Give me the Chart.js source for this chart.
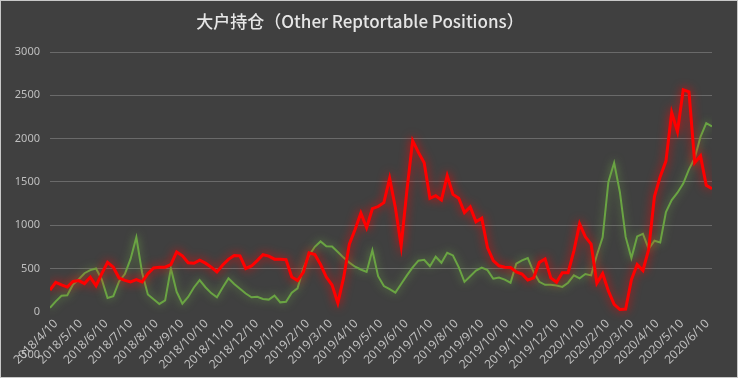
<!DOCTYPE html>
<html>
<head>
<meta charset="utf-8">
<script src="https://cdn.jsdelivr.net/npm/chart.js@4.4.1/dist/chart.umd.min.js"></script>
<style>
html,body{margin:0;padding:0;background:#404040;}
#wrap{width:738px;height:378px;position:relative;}
</style>
</head>
<body>
<div id="wrap"><canvas id="c"></canvas></div>
<script>
// ---- data ----
const titleText = '大户持仓（Other Reptortable Positions）';
const startDate = '2018/4/10';   // first weekly observation
const weekCount = 116;           // weekly observations
const tickLabels = ['2018/4/10','2018/5/10','2018/6/10','2018/7/10','2018/8/10','2018/9/10','2018/10/10','2018/11/10','2018/12/10','2019/1/10','2019/2/10','2019/3/10','2019/4/10','2019/5/10','2019/6/10','2019/7/10','2019/8/10','2019/9/10','2019/10/10','2019/11/10','2019/12/10','2020/1/10','2020/2/10','2020/3/10','2020/4/10','2020/5/10','2020/6/10'];
const yMin = -500, yMax = 3000, yStep = 500;

const redName = '多头';
const redSeries = [250,338,310,285,350,360,325,400,300,440,570,514,390,362,345,370,345,440,505,514,514,545,690,645,565,560,595,561,515,460,540,605,650,645,500,528,590,658,642,607,606,600,400,360,455,680,660,545,400,308,100,390,780,950,1140,970,1190,1215,1260,1540,1200,760,1400,1976,1840,1720,1310,1340,1290,1570,1355,1310,1145,1210,1040,1080,740,590,530,514,510,460,435,365,390,570,610,390,340,450,450,700,1015,865,780,330,440,240,85,25,30,370,545,476,720,1330,1560,1740,2300,2080,2564,2540,1720,1800,1460,1420];
const greenName = '空头';
const greenSeries = [45,120,185,190,315,375,445,480,500,370,159,180,350,435,610,860,450,200,143,90,130,500,230,93,170,280,365,283,215,167,280,385,320,264,210,167,172,148,140,185,108,115,220,270,500,650,750,812,755,754,690,625,567,520,488,460,710,410,297,260,220,320,420,512,590,600,525,635,565,680,650,515,345,410,475,510,480,381,395,370,335,555,593,620,460,345,311,312,303,287,335,420,385,435,420,655,860,1500,1720,1380,864,620,870,900,725,820,800,1150,1290,1375,1480,1645,1775,2020,2178,2140];

// ---- helpers (dates -> day offsets) ----
function dayNum(s){ const p = s.split('/').map(Number); return Date.UTC(p[0], p[1]-1, p[2]) / 86400000; }
const day0 = dayNum(startDate);
const tickOffsets = tickLabels.map(l => dayNum(l) - day0);
const labelByOffset = {};
tickLabels.forEach((l,i) => { labelByOffset[tickOffsets[i]] = l; });
const toPoints = arr => arr.map((v,i) => ({x: i*7, y: v}));

const glowPlugin = {
  id: 'glow',
  beforeDatasetDraw(chart, args){
    const ds = chart.data.datasets[args.index];
    chart.ctx.save();
    chart.ctx.shadowColor = ds.glowColor;
    chart.ctx.shadowBlur = ds.glowBlur;
  },
  afterDatasetDraw(chart){ chart.ctx.restore(); }
};
const bgPlugin = {
  id: 'bg',
  beforeDraw(chart){
    const c = chart.ctx; c.save(); c.fillStyle = '#404040'; c.fillRect(0,0,chart.width,chart.height); c.restore();
  },
  afterDraw(chart){
    const c = chart.ctx; c.save(); c.strokeStyle = '#c8c8c8'; c.lineWidth = 1;
    c.strokeRect(0.5,0.5,chart.width-1,chart.height-1); c.restore();
  }
};

new Chart(document.getElementById('c'), {
  type: 'line',
  data: {
    datasets: [
      { label: redName, data: toPoints(redSeries), borderColor: '#ff0000', borderWidth: 3, pointRadius: 0, tension: 0, glowColor: 'rgba(255,0,0,0.85)', glowBlur: 10 },
      { label: greenName, data: toPoints(greenSeries), borderColor: '#6aa443', borderWidth: 2, pointRadius: 0, tension: 0, glowColor: 'rgba(112,173,71,0.8)', glowBlur: 8 }
    ]
  },
  options: {
    responsive: true, maintainAspectRatio: false, animation: false, devicePixelRatio: 1,
    layout: { padding: { left: 8, right: 26, top: 0, bottom: 23 } },
    plugins: {
      legend: { display: false },
      tooltip: { enabled: false },
      title: { display: true, text: titleText, color: '#e6e6e6',
        font: { family: '"Noto Sans CJK SC", "Noto Sans", sans-serif', size: 17, weight: '500' },
        padding: { top: 11, bottom: 20.6 } }
    },
    scales: {
      x: {
        type: 'linear', position: { y: 0 }, min: 0, max: (weekCount-1)*7,
        grid: { display: false, drawTicks: false }, border: { display: false },
        afterBuildTicks: s => { s.ticks = tickOffsets.map(v => ({ value: v })); },
        afterFit: s => { s.height = 0; },
        ticks: { autoSkip: false, minRotation: 45, maxRotation: 45, padding: 5, labelOffset: 6,
          color: '#bfbfbf', font: { family: '"Noto Sans", sans-serif', size: 12 },
          callback: v => labelByOffset[v] }
      },
      y: {
        min: yMin, max: yMax,
        afterFit: s => { s.width = 42; },
        grid: { drawTicks: false, color: ctx => (ctx.tick && ctx.tick.value >= 500) ? '#6a6a6a' : 'rgba(0,0,0,0)' },
        border: { display: false },
        ticks: { stepSize: yStep, padding: 10, color: '#bfbfbf', font: { family: '"Noto Sans", sans-serif', size: 11 },
          callback: v => String(v) }
      }
    }
  },
  plugins: [bgPlugin, glowPlugin]
});
</script>
</body>
</html>
